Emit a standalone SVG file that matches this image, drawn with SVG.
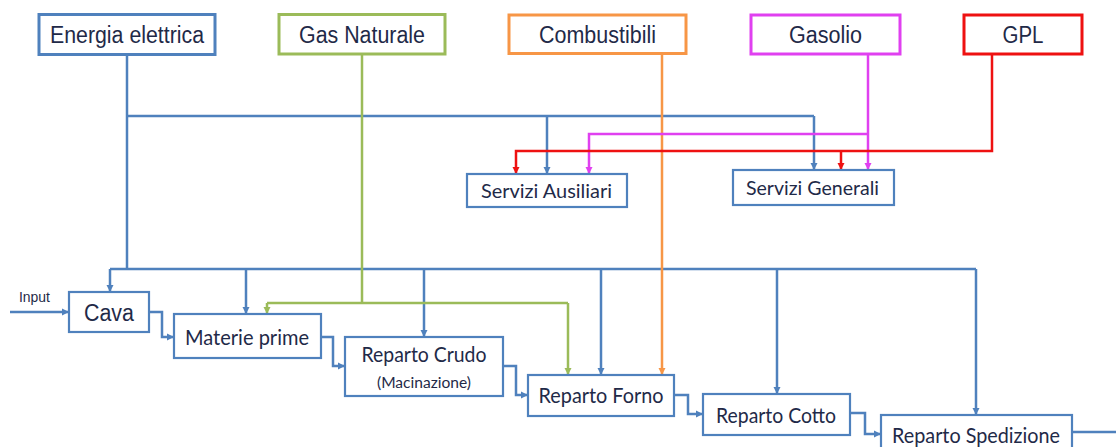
<svg xmlns="http://www.w3.org/2000/svg" width="1116" height="447" viewBox="0 0 1116 447">
<style>
.top{fill:#fff;stroke-width:3}
.box{fill:#fff;stroke:#4f81bd;stroke-width:2.2}
.t1{font-family:"Liberation Sans",Arial,sans-serif;font-size:23px;fill:#1f2a48;text-anchor:middle}
.t2{font-family:Lato,"Open Sans",sans-serif;font-size:22px;fill:#1f2a48;text-anchor:middle}
.t3{font-family:Lato,"Open Sans",sans-serif;font-size:19px;fill:#1f2a48;text-anchor:middle}
.c{fill:none;stroke-width:2.5;stroke-linejoin:miter}
.b{stroke:#4f81bd}
.g{stroke:#9bbb59}
.o{stroke:#f79646}
.m{stroke:#e040f0}
.r{stroke:#ee1111}
</style>
<defs>
<marker id="ab" markerUnits="userSpaceOnUse" markerWidth="8" markerHeight="8" refX="7" refY="4" orient="auto"><path d="M0,0.5 L7,4 L0,7.5 z" fill="#4f81bd"/></marker>
<marker id="ag" markerUnits="userSpaceOnUse" markerWidth="8" markerHeight="8" refX="7" refY="4" orient="auto"><path d="M0,0.5 L7,4 L0,7.5 z" fill="#9bbb59"/></marker>
<marker id="ao" markerUnits="userSpaceOnUse" markerWidth="8" markerHeight="8" refX="7" refY="4" orient="auto"><path d="M0,0.5 L7,4 L0,7.5 z" fill="#f79646"/></marker>
<marker id="am" markerUnits="userSpaceOnUse" markerWidth="8" markerHeight="8" refX="7" refY="4" orient="auto"><path d="M0,0.5 L7,4 L0,7.5 z" fill="#e040f0"/></marker>
<marker id="ar" markerUnits="userSpaceOnUse" markerWidth="8" markerHeight="8" refX="7" refY="4" orient="auto"><path d="M0,0.5 L7,4 L0,7.5 z" fill="#ee1111"/></marker>
</defs>
<rect width="1116" height="447" fill="#fff"/>

<g id="connectors">
<!-- Energia elettrica -->
<path class="c b" d="M127,55 V269"/>
<path class="c b" d="M127,116 H814"/>
<path class="c b" d="M547,116 V174" marker-end="url(#ab)"/>
<path class="c b" d="M814,116 V170" marker-end="url(#ab)"/>
<path class="c b" d="M110,269 H976"/>
<path class="c b" d="M110,269 V292" marker-end="url(#ab)"/>
<path class="c b" d="M246,269 V314" marker-end="url(#ab)"/>
<path class="c b" d="M424,269 V337" marker-end="url(#ab)"/>
<path class="c b" d="M601,269 V375" marker-end="url(#ab)"/>
<path class="c b" d="M777,269 V394" marker-end="url(#ab)"/>
<path class="c b" d="M976,269 V415" marker-end="url(#ab)"/>
<!-- Gas Naturale -->
<path class="c g" d="M362,54 V303"/>
<path class="c g" d="M267,303 H568"/>
<path class="c g" d="M267,303 V314" marker-end="url(#ag)"/>
<path class="c g" d="M568,303 V375" marker-end="url(#ag)"/>
<!-- Combustibili -->
<path class="c o" d="M662,53 V375" marker-end="url(#ao)"/>
<!-- Gasolio -->
<path class="c m" d="M868,54 V170" marker-end="url(#am)"/>
<path class="c m" d="M868,134 H589 V174" marker-end="url(#am)"/>
<!-- GPL -->
<path class="c r" d="M992,54 V151 H516 V174" marker-end="url(#ar)"/>
<path class="c r" d="M841,151 V170" marker-end="url(#ar)"/>
<!-- process flow -->
<path class="c b" d="M10,312 H69" marker-end="url(#ab)"/>
<path class="c b" d="M149,312 H162 V337 H174" marker-end="url(#ab)"/>
<path class="c b" d="M321,337 H333 V366 H345" marker-end="url(#ab)"/>
<path class="c b" d="M503,366 H516 V395 H528" marker-end="url(#ab)"/>
<path class="c b" d="M674,395 H688 V414 H703" marker-end="url(#ab)"/>
<path class="c b" d="M850,413 H865 V434 H881" marker-end="url(#ab)"/>
<path class="c b" d="M1072,432 H1116"/>
</g>

<g id="energia"><rect class="top" x="39" y="14.5" width="176" height="40" stroke="#4f81bd"/><text class="t1" x="127" y="43" textLength="154" lengthAdjust="spacingAndGlyphs">Energia elettrica</text></g>
<g id="gas"><rect class="top" x="279" y="14.5" width="166" height="39.5" stroke="#9bbb59"/><text class="t1" x="362" y="43" textLength="126" lengthAdjust="spacingAndGlyphs">Gas Naturale</text></g>
<g id="combustibili"><rect class="top" x="509" y="15" width="177" height="38.5" stroke="#f79646"/><text class="t1" x="597.5" y="43" textLength="117" lengthAdjust="spacingAndGlyphs">Combustibili</text></g>
<g id="gasolio"><rect class="top" x="751" y="15" width="149" height="39" stroke="#e040f0"/><text class="t1" x="825.5" y="43" textLength="73" lengthAdjust="spacingAndGlyphs">Gasolio</text></g>
<g id="gpl"><rect class="top" x="964" y="15" width="118" height="39" stroke="#ee1111"/><text class="t1" x="1023" y="43" textLength="41" lengthAdjust="spacingAndGlyphs">GPL</text></g>

<g id="servizi-ausiliari"><rect class="box" x="467" y="174" width="160" height="33"/><text class="t3" x="546.5" y="198" textLength="131" lengthAdjust="spacingAndGlyphs">Servizi Ausiliari</text></g>
<g id="servizi-generali"><rect class="box" x="733" y="170" width="161" height="35"/><text class="t3" x="812.5" y="195" textLength="133" lengthAdjust="spacingAndGlyphs">Servizi Generali</text></g>

<g id="input"><text x="19" y="302" font-family="Liberation Sans,Arial,sans-serif" font-size="15" fill="#1f2a48" textLength="31" lengthAdjust="spacingAndGlyphs">Input</text></g>
<g id="cava"><rect class="box" x="69" y="292" width="80" height="40"/><text class="t1" x="109" y="321" textLength="50" lengthAdjust="spacingAndGlyphs">Cava</text></g>
<g id="materie-prime"><rect class="box" x="174" y="314" width="147" height="44"/><text class="t2" x="247" y="345" textLength="124" lengthAdjust="spacingAndGlyphs">Materie prime</text></g>
<g id="reparto-crudo"><rect class="box" x="345" y="337" width="158" height="59"/><text class="t2" x="424" y="362" textLength="125" lengthAdjust="spacingAndGlyphs">Reparto Crudo</text><text x="424" y="388" font-family="Lato,Open Sans,sans-serif" font-size="15.5" fill="#1f2a48" text-anchor="middle" textLength="94" lengthAdjust="spacingAndGlyphs">(Macinazione)</text></g>
<g id="reparto-forno"><rect class="box" x="528" y="375" width="146" height="41"/><text class="t2" x="601" y="403" textLength="125" lengthAdjust="spacingAndGlyphs">Reparto Forno</text></g>
<g id="reparto-cotto"><rect class="box" x="703" y="394" width="147" height="41"/><text class="t2" x="776" y="423" textLength="120" lengthAdjust="spacingAndGlyphs">Reparto Cotto</text></g>
<g id="reparto-spedizione"><rect class="box" x="881" y="415" width="191" height="42"/><text class="t2" x="976" y="443" textLength="168" lengthAdjust="spacingAndGlyphs">Reparto Spedizione</text></g>
</svg>
